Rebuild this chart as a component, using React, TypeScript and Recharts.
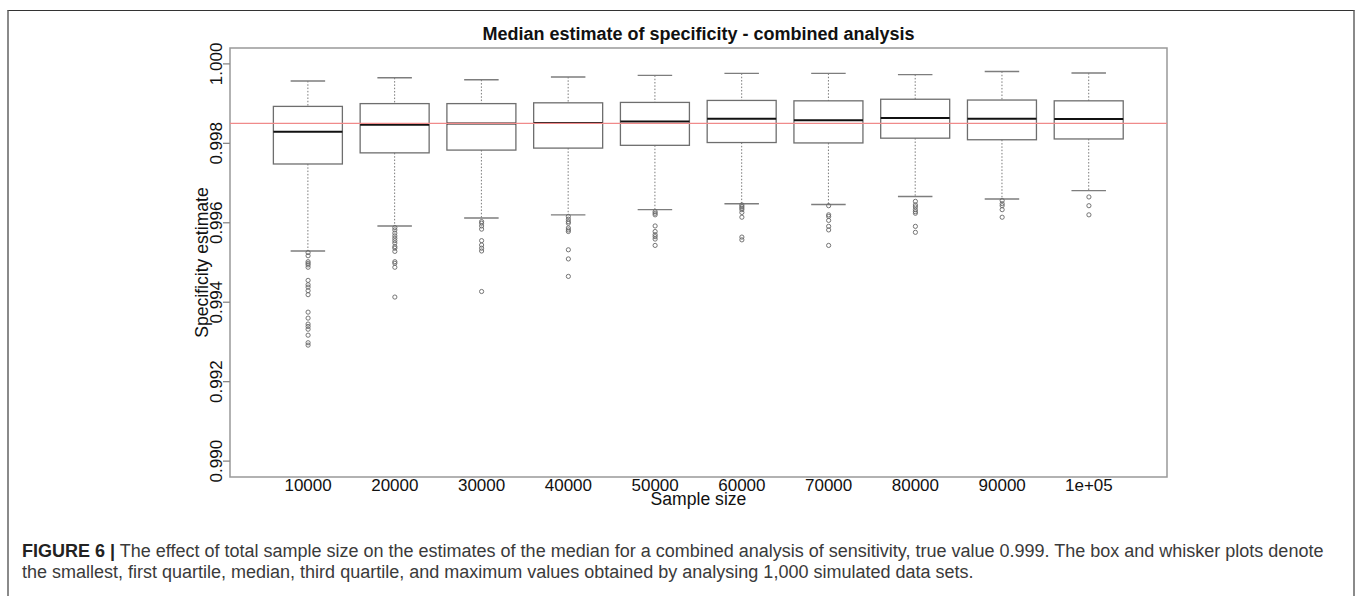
import {
  Bar,
  ComposedChart,
  ReferenceArea,
  ReferenceLine,
  Scatter,
  XAxis,
  YAxis,
} from "recharts";

const sampleSizes = ["10000", "20000", "30000", "40000", "50000", "60000", "70000", "80000", "90000", "1e+05"];

const lowerWhisker = [0.99529, 0.99592, 0.99612, 0.9962, 0.99633, 0.99648, 0.99646, 0.99666, 0.9966, 0.99681];
const firstQuartile = [0.99748, 0.99776, 0.99783, 0.99788, 0.99795, 0.99802, 0.99801, 0.99813, 0.99809, 0.99811];
const medianValue = [0.99829, 0.99847, 0.9985, 0.99851, 0.99855, 0.99862, 0.99858, 0.99864, 0.99862, 0.99861];
const thirdQuartile = [0.99893, 0.999, 0.999, 0.99902, 0.99903, 0.99908, 0.99907, 0.99911, 0.99909, 0.99907];
const upperWhisker = [0.99957, 0.99965, 0.9996, 0.99967, 0.99971, 0.99976, 0.99976, 0.99973, 0.99981, 0.99977];

const outliers = [
  [0.99525, 0.99517, 0.99502, 0.99498, 0.99494, 0.99488, 0.99455, 0.99444, 0.99438, 0.99429, 0.99419,
    0.99375, 0.9936, 0.99345, 0.99339, 0.99332, 0.99317, 0.99298, 0.99292],
  [0.99588, 0.99582, 0.99574, 0.99567, 0.99561, 0.99555, 0.99549, 0.9954, 0.99536, 0.99528, 0.99502,
    0.99498, 0.99488, 0.99413],
  [0.99603, 0.99599, 0.99592, 0.99584, 0.99555, 0.99544, 0.99536, 0.99529, 0.99427],
  [0.99616, 0.99609, 0.99603, 0.99599, 0.99587, 0.99582, 0.99578, 0.99532, 0.99509, 0.99465],
  [0.99628, 0.99624, 0.9962, 0.99592, 0.99578, 0.9957, 0.99565, 0.99559, 0.99543],
  [0.99645, 0.99641, 0.99637, 0.99633, 0.99626, 0.99614, 0.99564, 0.99557],
  [0.99643, 0.9962, 0.99616, 0.99606, 0.99591, 0.99582, 0.99543],
  [0.99654, 0.99645, 0.9964, 0.99633, 0.99628, 0.99624, 0.99591, 0.99576],
  [0.99656, 0.99648, 0.99643, 0.99633, 0.99614],
  [0.99665, 0.99643, 0.9962],
];

const trueValue = 0.9985;
const yTicks = [0.99, 0.992, 0.994, 0.996, 0.998, 1.0];
const xTicks = [1, 2, 3, 4, 5, 6, 7, 8, 9, 10];

const boxData = sampleSizes.map((label, i) => ({
  x: i + 1,
  label,
  lo: lowerWhisker[i],
  q1: firstQuartile[i],
  med: medianValue[i],
  q3: thirdQuartile[i],
  hi: upperWhisker[i],
}));

const outlierData = outliers.flatMap((vals, i) => vals.map((v) => ({ x: i + 1, y: v })));

const FONT = "'Liberation Sans', Arial, Helvetica, sans-serif";

function BoxShape(props: any) {
  const { x, y, width, height, payload } = props;
  if (!payload || width == null) return null;
  const { lo, q1, med, q3, hi } = payload;
  // map a value to pixels using the two ends the bar scale gave us
  const py = (v: number) => y + ((hi - v) / (hi - lo)) * height;
  const cx = x + width / 2;
  const cap = width / 4;
  return (
    <g>
      <line x1={cx} x2={cx} y1={py(hi)} y2={py(q3)} stroke="#7a7a7a" strokeDasharray="1.5 1.8" />
      <line x1={cx} x2={cx} y1={py(q1)} y2={py(lo)} stroke="#7a7a7a" strokeDasharray="1.5 1.8" />
      <line x1={cx - cap} x2={cx + cap} y1={py(hi)} y2={py(hi)} stroke="#7d7d7d" strokeWidth={1.4} />
      <line x1={cx - cap} x2={cx + cap} y1={py(lo)} y2={py(lo)} stroke="#7d7d7d" strokeWidth={1.4} />
      <rect x={x} y={py(q3)} width={width} height={py(q1) - py(q3)} fill="none" stroke="#6e6e6e" strokeWidth={1.3} />
      <line x1={x} x2={x + width} y1={py(med)} y2={py(med)} stroke="#111" strokeWidth={2} />
    </g>
  );
}

function OutlierDot(props: any) {
  const { cx, cy } = props;
  if (cx == null || cy == null) return null;
  return <circle cx={cx} cy={cy} r={2.1} fill="none" stroke="#666" strokeWidth={0.9} />;
}

function XTick(props: any) {
  const { x, y, payload } = props;
  return (
    <text x={x} y={y + 14} textAnchor="middle" fontSize={17} fill="#111" fontFamily={FONT}>
      {sampleSizes[payload.value - 1]}
    </text>
  );
}

function YTick(props: any) {
  const { x, y, payload } = props;
  return (
    <text
      x={x - 0.5}
      y={y}
      transform={`rotate(-90 ${x - 0.5} ${y})`}
      textAnchor="middle"
      fontSize={17}
      fill="#111"
      fontFamily={FONT}
    >
      {payload.value.toFixed(3)}
    </text>
  );
}

function XLabel(props: any) {
  const vb = props.viewBox;
  if (!vb) return null;
  return (
    <text x={vb.x + vb.width / 2} y={vb.y + 27.5} textAnchor="middle" fontSize={17.6} fill="#111" fontFamily={FONT}>
      Sample size
    </text>
  );
}

function YLabel(props: any) {
  const vb = props.viewBox;
  if (!vb) return null;
  const lx = vb.x + vb.width - 22.5;
  const ly = vb.y + vb.height / 2;
  return (
    <text x={lx} y={ly} transform={`rotate(-90 ${lx} ${ly})`} textAnchor="middle" fontSize={17.6} fill="#111" fontFamily={FONT}>
      Specificity estimate
    </text>
  );
}

export default function App() {
  return (
    <div style={{ position: "relative", width: 1358, height: 596, background: "#fff", fontFamily: FONT }}>
      <style>{"body{margin:0;overflow:hidden}"}</style>
      <div
        style={{
          position: "absolute",
          left: 7,
          top: 10,
          width: 1344,
          height: 600,
          borderTop: "1.5px solid #333",
          borderLeft: "2px solid #8a8a8a",
          borderRight: "2px solid #8a8a8a",
        }}
      />
      <div
        style={{
          position: "absolute",
          left: 230,
          width: 937,
          top: 24.8,
          textAlign: "center",
          fontSize: 18,
          lineHeight: "18px",
          fontWeight: "bold",
          color: "#111",
        }}
      >
        Median estimate of specificity - combined analysis
      </div>
      <div style={{ position: "absolute", left: 0, top: 0 }}>
        <ComposedChart
          width={1358}
          height={596}
          data={boxData}
          margin={{ top: 48, right: 191, bottom: 89, left: 170 }}
        >
          <XAxis
            dataKey="x"
            type="number"
            domain={[0.1, 10.9]}
            ticks={xTicks}
            allowDataOverflow
            tickLine={false}
            tickSize={0}
            tickMargin={0}
            axisLine={false}
            height={30}
            tick={<XTick />}
            interval={0}
            label={<XLabel />}
          />
          <YAxis
            type="number"
            domain={[0.9896, 1.0004]}
            ticks={yTicks}
            allowDataOverflow
            width={60}
            tickSize={7}
            tickMargin={0}
            tickLine={{ stroke: "#888", strokeWidth: 1.3 }}
            axisLine={false}
            tick={<YTick />}
            interval={0}
            label={<YLabel />}
          />
          <ReferenceArea
            x1={0.1}
            x2={10.9}
            y1={0.9896}
            y2={1.0004}
            fill="none"
            fillOpacity={0}
            stroke="#999"
            strokeWidth={1.5}
            ifOverflow="visible"
          />
          <Bar
            dataKey={(d: any) => [d.lo, d.hi]}
            shape={<BoxShape />}
            isAnimationActive={false}
          />
          <Scatter data={outlierData} dataKey="y" shape={<OutlierDot />} isAnimationActive={false} />
          <ReferenceLine y={trueValue} stroke="#f08a8a" strokeWidth={1.2} />
        </ComposedChart>
      </div>
      <div
        style={{
          position: "absolute",
          left: 22,
          top: 541.3,
          fontSize: 18,
          lineHeight: "21px",
          color: "#3a3a3a",
          whiteSpace: "nowrap",
        }}
      >
        <b style={{ color: "#222" }}>FIGURE 6 |</b> The effect of total sample size on the estimates of the median for a
        combined analysis of sensitivity, true value 0.999. The box and whisker plots denote
        <br />
        the smallest, first quartile, median, third quartile, and maximum values obtained by analysing 1,000 simulated data
        sets.
      </div>
    </div>
  );
}
